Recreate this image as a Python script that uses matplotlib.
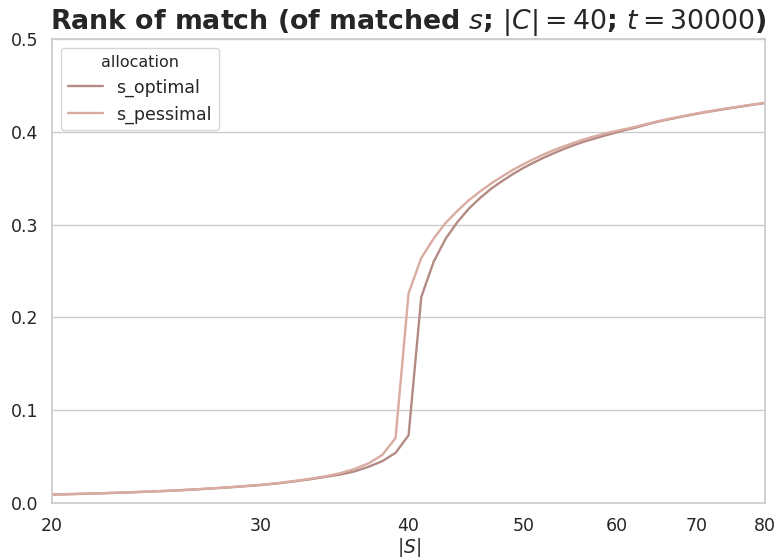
import matplotlib
matplotlib.use("Agg")
import matplotlib.pyplot as plt
import seaborn as sns
from matplotlib.ticker import NullLocator

# |S| values
s_size = list(range(20, 81))

s_optimal = [
    0.0090, 0.0097, 0.0104, 0.0112, 0.0121, 0.0130, 0.0141, 0.0153, 0.0165, 0.0179,  # 20-29
    0.0193, 0.0211, 0.0232, 0.0255, 0.0280, 0.0306, 0.0340, 0.0390, 0.0450, 0.0540,  # 30-39
    0.0730, 0.2220, 0.2600, 0.2850, 0.3030, 0.3175, 0.3290, 0.3390, 0.3470, 0.3545,  # 40-49
    0.3610, 0.3667, 0.3720, 0.3767, 0.3810, 0.3850, 0.3885, 0.3915, 0.3943, 0.3970,  # 50-59
    0.3995, 0.4020, 0.4040, 0.4065, 0.4088, 0.4110, 0.4128, 0.4145, 0.4162, 0.4178,  # 60-69
    0.4193, 0.4207, 0.4220, 0.4233, 0.4245, 0.4257, 0.4268, 0.4279, 0.4290, 0.4300,  # 70-79
    0.4310,                                                                          # 80
]

s_pessimal = [
    0.0091, 0.0098, 0.0105, 0.0113, 0.0122, 0.0131, 0.0142, 0.0154, 0.0167, 0.0181,  # 20-29
    0.0196, 0.0214, 0.0236, 0.0260, 0.0287, 0.0320, 0.0366, 0.0427, 0.0517, 0.0700,  # 30-39
    0.2260, 0.2640, 0.2850, 0.3020, 0.3150, 0.3265, 0.3360, 0.3445, 0.3520, 0.3590,  # 40-49
    0.3650, 0.3705, 0.3755, 0.3800, 0.3840, 0.3876, 0.3910, 0.3940, 0.3965, 0.3990,  # 50-59
    0.4010, 0.4030, 0.4050, 0.4072, 0.4094, 0.4114, 0.4132, 0.4150, 0.4166, 0.4182,  # 60-69
    0.4197, 0.4211, 0.4224, 0.4237, 0.4249, 0.4260, 0.4271, 0.4282, 0.4293, 0.4303,  # 70-79
    0.4314,                                                                          # 80
]

x_ticks = [20, 30, 40, 50, 60, 70, 80]
y_ticks = [0.0, 0.1, 0.2, 0.3, 0.4, 0.5]

sns.set_theme(style="whitegrid")
plt.rcParams['font.family'] = ['DejaVu Sans']

fig, ax = plt.subplots(figsize=(7.79, 5.57), dpi=100)
fig.subplots_adjust(left=0.067, right=0.982, top=0.930, bottom=0.097)

ax.plot(s_size, s_optimal, color="#b38b84", lw=1.7, label="s_optimal")
ax.plot(s_size, s_pessimal, color="#d9aba1", lw=1.7, label="s_pessimal")

ax.set_xscale("log")
ax.set_xlim(20, 80)
ax.set_xticks(x_ticks)
ax.set_xticklabels([str(t) for t in x_ticks])
ax.xaxis.set_minor_locator(NullLocator())
ax.grid(axis="x", visible=False)

ax.set_ylim(0, 0.5)
ax.set_yticks(y_ticks)
ax.set_yticklabels([f"{t:.1f}" for t in y_ticks])

ax.tick_params(axis="both", labelsize=12.5, pad=4)
ax.set_xlabel("$|S|$", fontsize=13.5, labelpad=1)
ax.set_ylabel("")
ax.set_title("Rank of match (of matched $s$; $|C| = 40$; $t = 30000$)",
             fontsize=19.3, fontweight="bold", pad=7)

leg = ax.legend(title="allocation", loc="upper left", fontsize=12.5,
                title_fontsize=11.5)

plt.savefig("out.png", dpi=100)
